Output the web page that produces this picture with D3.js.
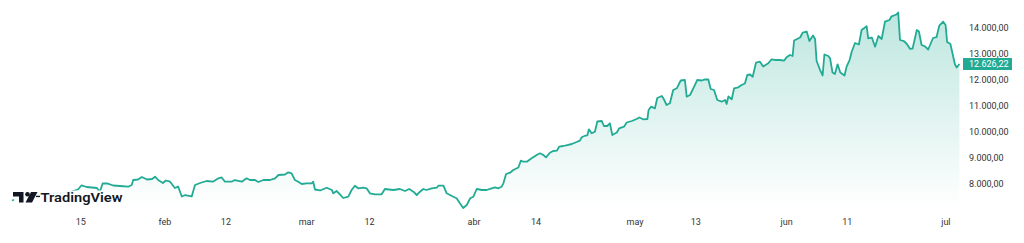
<!DOCTYPE html>
<html>
<head>
<meta charset="utf-8">
<script src="https://cdn.jsdelivr.net/npm/d3@7"></script>
<style>
  html, body { margin: 0; padding: 0; background: #fff; }
  svg { display: block; }
  text { font-family: Roboto, "Noto Sans", sans-serif; }
</style>
</head>
<body>
<div id="chart"></div>
<script>
// bar index (session) and close
var bars = [0, 2.7, 5.3, 8.3, 12, 16, 19.3, 22, 23.2, 24.9, 28.3, 29.3, 30.2, 31.7, 33.7, 36, 38.7, 39.9,
	40.4, 42, 43.3, 45, 46.7, 47.7, 48.7, 50.3, 51.3, 52.7, 54.3, 55.4, 56.6, 57.7, 59.9, 61, 62.7, 64.9,
	67, 68.8, 69.9, 71, 73.2, 74.3, 76.6, 78.2, 79.3, 81, 82.1, 83.8, 86, 87.7, 88.8, 91, 92.1, 93.2,
	94.3, 95.4, 96.6, 98.2, 99.9, 100.4, 101, 102.7, 104.9, 106.6, 107.1, 108.2, 109.3, 110.4, 112.1,
	113.2, 114.3, 115.4, 117.1, 118.2, 119.3, 121, 123.2, 124.3, 127.1, 129.3, 131, 132.4, 133.8, 134.9,
	136, 137.1, 138.2, 139.9, 141.6, 142.1, 143.8, 144.9, 147.1, 148.2, 149.3, 150.4, 151.6, 152.7,
	153.8, 154.9, 156.6, 158.2, 159.9, 161, 162.1, 163.2, 163.8, 164.7, 166, 167.1, 168.8, 169.6, 170.4,
	171.6, 173.2, 174.9, 176, 177.1, 178, 179.3, 180.4, 181.6, 182.4, 183.8, 185.1, 186.6, 188.2, 189.3,
	189.9, 191, 191.8, 192.3, 193.2, 194.3, 195.1, 196.6, 197.3, 198.4, 199.3, 200.1, 201.6, 202.4, 204,
	204.9, 206.6, 208.2, 209.1, 210.4, 211.8, 212.2, 213, 214.3, 215.1, 216.6, 217.3, 218.2, 219.3,
	220.4, 221.6, 222.9, 224.3, 224.9, 226, 227.1, 228.4, 229.9, 231, 232.1, 232.9, 234, 235.1, 236.6,
	237.7, 238.2, 238.8, 239.9, 240.7, 242.1, 243.2, 244.3, 245.1, 246, 246.9, 248, 249.3, 250.4, 252.1,
	253.2, 254.3, 256, 257.3, 258.2, 259.3, 260.2, 260.7, 261.7, 262.7, 263.6, 264.9, 265.8, 267, 267.7,
	268.2, 269.3, 270.2, 270.8, 272.1, 272.7, 273.5, 274.3, 275.2, 276.1, 277.5, 278.2, 279.2, 279.9,
	281, 282.3, 283.2, 284.9, 285.4, 286.6, 287.7, 288.8, 289.9, 291, 292.5, 293.2, 294.8, 295.4, 296,
	297.3, 298.3, 299.3, 300.2, 301.6, 302.3, 303.2, 304.3, 305.4, 307, 308.2, 309.1, 310.4, 311.2,
	311.7, 312.8, 314.3, 314.9, 315.8];
var closes = [7377, 7473, 7531, 7588, 7627, 7665, 7704, 7800, 7962, 7896, 7858, 7715, 8031, 8038, 7954, 7935, 7908, 7973,
	8165, 8185, 8281, 8185, 8204, 8292, 8165, 8050, 8146, 8100, 7858, 7908, 7531, 7588, 7531, 7973, 8050, 8127,
	8100, 8231, 8262, 8100, 8100, 8165, 8100, 8231, 8165, 8165, 8088, 8165, 8165, 8231, 8358, 8377, 8462, 8423,
	8165, 8100, 8012, 8038, 8038, 8100, 7800, 7762, 7869, 7781, 7654, 7742, 7615, 7473, 7523,
	7781, 7946, 7846, 7869, 7846, 7654, 7615, 7615, 7819, 7781, 7819, 7742, 7819, 7715, 7588,
	7715, 7819, 7781, 7846, 7869, 7946, 7946, 7654, 7523, 7462, 7269, 7088, 7204, 7462,
	7523, 7819, 7781, 7781, 7846, 7885, 7846, 7908, 8038, 8396, 8446, 8550, 8646, 8908, 8869,
	8869, 9000, 9127, 9192, 9127, 9038, 9215, 9281, 9292, 9446, 9473, 9511, 9550, 9627, 9677,
	9808, 9869, 9885, 10115, 9961, 10023, 10415, 10435, 10242, 10242, 10346, 9896, 9992, 10154, 10215,
	10377, 10435, 10511, 10569, 10500, 10511, 10858, 10985, 10923, 11319, 11396, 11269, 11050, 11115,
	11627, 11692, 11992, 12011, 11369, 11434, 11692, 12011, 11992, 12038, 12030, 11665, 11627, 11242, 11177,
	11242, 11088, 11377, 11269, 11692, 11731, 11819, 11877, 12204, 12223, 12138, 12677, 12715, 12531, 12654,
	12808, 12781, 12781, 12754, 12884, 12973, 12935, 13531, 13588, 13646, 13838, 13877, 13511, 13723, 13588,
	12742, 12415, 12185, 12992, 12934, 12846, 12300, 12242, 12615, 12300, 12185, 12523, 12781, 13100,
	13434, 13377, 13934, 14077, 13615, 13646, 13292, 13704, 13588, 14254, 14319, 14461, 14531, 14607, 13550,
	13511, 13396, 13211, 13223, 13934, 13877, 13357, 13307, 13184, 13627, 13665, 14107, 14254, 14127,
	13473, 13396, 12615, 12492, 12626.22];

var priceTicks = [8000, 9000, 10000, 11000, 12000, 13000, 14000];
var timeTickBars = [22.9, 51, 71.3, 98.2, 119.2, 154, 174.7, 207.7, 227.9, 258.2, 278.4, 311.3];
var timeTickLabels = ["15", "feb", "12", "mar", "12", "abr", "14", "may", "13", "jun", "11", "jul"];
var lastPrice = 12626.22;

var width = 1024, height = 243;
var paneBottom = 208;
var lineColor = "#22ab94";

var es = d3.formatLocale({decimal: ",", thousands: ".", grouping: [3], currency: ["", ""]});
var fmt = es.format(",.2f");

var data = bars.map(function (b, i) { return {b: b, v: closes[i]}; });

var x = d3.scaleLinear().domain([0, 316]).range([12, 960]);
var y = d3.scaleLinear().domain([7011.5, 15088.5]).range([210, 0]);

var svg = d3.select("#chart").append("svg")
	.attr("width", width)
	.attr("height", height);

var defs = svg.append("defs");
var grad = defs.append("linearGradient")
	.attr("id", "areaFill")
	.attr("gradientUnits", "userSpaceOnUse")
	.attr("x1", 0).attr("y1", 10)
	.attr("x2", 0).attr("y2", paneBottom);
grad.append("stop").attr("offset", 0).attr("stop-color", lineColor).attr("stop-opacity", 0.3);
grad.append("stop").attr("offset", 1).attr("stop-color", lineColor).attr("stop-opacity", 0.0);

var area = d3.area()
	.x(function (d) { return x(d.b); })
	.y0(paneBottom)
	.y1(function (d) { return y(d.v); });

var line = d3.line()
	.x(function (d) { return x(d.b); })
	.y(function (d) { return y(d.v); });

svg.append("path")
	.datum(data)
	.attr("d", area)
	.attr("fill", "url(#areaFill)");

svg.append("path")
	.datum(data)
	.attr("d", line)
	.attr("fill", "none")
	.attr("stroke", lineColor)
	.attr("stroke-width", 1.8)
	.attr("stroke-linejoin", "round");

// price scale
var yAxis = svg.append("g").attr("class", "y-axis");
yAxis.selectAll("text")
	.data(priceTicks)
	.enter().append("text")
	.attr("x", 969)
	.attr("y", function (d) { return y(d); })
	.attr("dy", "0.35em")
	.attr("font-size", 9)
	.attr("fill", "#333")
	.text(function (d) { return fmt(d); });

// last price label
var lp = svg.append("g").attr("transform", "translate(963," + y(lastPrice) + ")");
lp.append("rect")
	.attr("x", 0).attr("y", -6)
	.attr("width", 49).attr("height", 12)
	.attr("fill", lineColor);
lp.append("text")
	.attr("x", 6).attr("y", 0)
	.attr("dy", "0.35em")
	.attr("font-size", 9)
	.attr("fill", "#fff")
	.text(fmt(lastPrice));

// time scale
var xAxis = svg.append("g").attr("class", "x-axis");
xAxis.selectAll("text")
	.data(timeTickBars)
	.enter().append("text")
	.attr("x", function (d) { return x(d); })
	.attr("y", 222)
	.attr("dy", "0.35em")
	.attr("text-anchor", "middle")
	.attr("font-size", 9)
	.attr("fill", "#333")
	.text(function (d, i) { return timeTickLabels[i]; });

// TradingView attribution
var logo = svg.append("g").attr("transform", "translate(13,191)");
logo.append("rect")
	.attr("x", 1).attr("y", -0.5)
	.attr("width", 110).attr("height", 15)
	.attr("fill", "#fff")
	.attr("fill-opacity", 0.92);
logo.append("path")
	.attr("d", "M0,1 H10.5 V11.5 H6 V5.5 H0 Z")
	.attr("fill", "#131722");
logo.append("circle")
	.attr("cx", 14.5).attr("cy", 3.3).attr("r", 2.3)
	.attr("fill", "#131722");
logo.append("path")
	.attr("d", "M18,1 H24.5 L19,11.5 H12.5 Z")
	.attr("fill", "#131722");
logo.append("rect")
	.attr("x", 23).attr("y", 4.8)
	.attr("width", 4).attr("height", 1.3)
	.attr("fill", "#131722");
logo.append("text")
	.attr("x", 27.5).attr("y", 10.5)
	.attr("font-size", 13)
	.attr("font-weight", 600)
	.attr("textLength", 82)
	.attr("lengthAdjust", "spacingAndGlyphs")
	.attr("fill", "#131722")
	.text("TradingView");
</script>
</body>
</html>
